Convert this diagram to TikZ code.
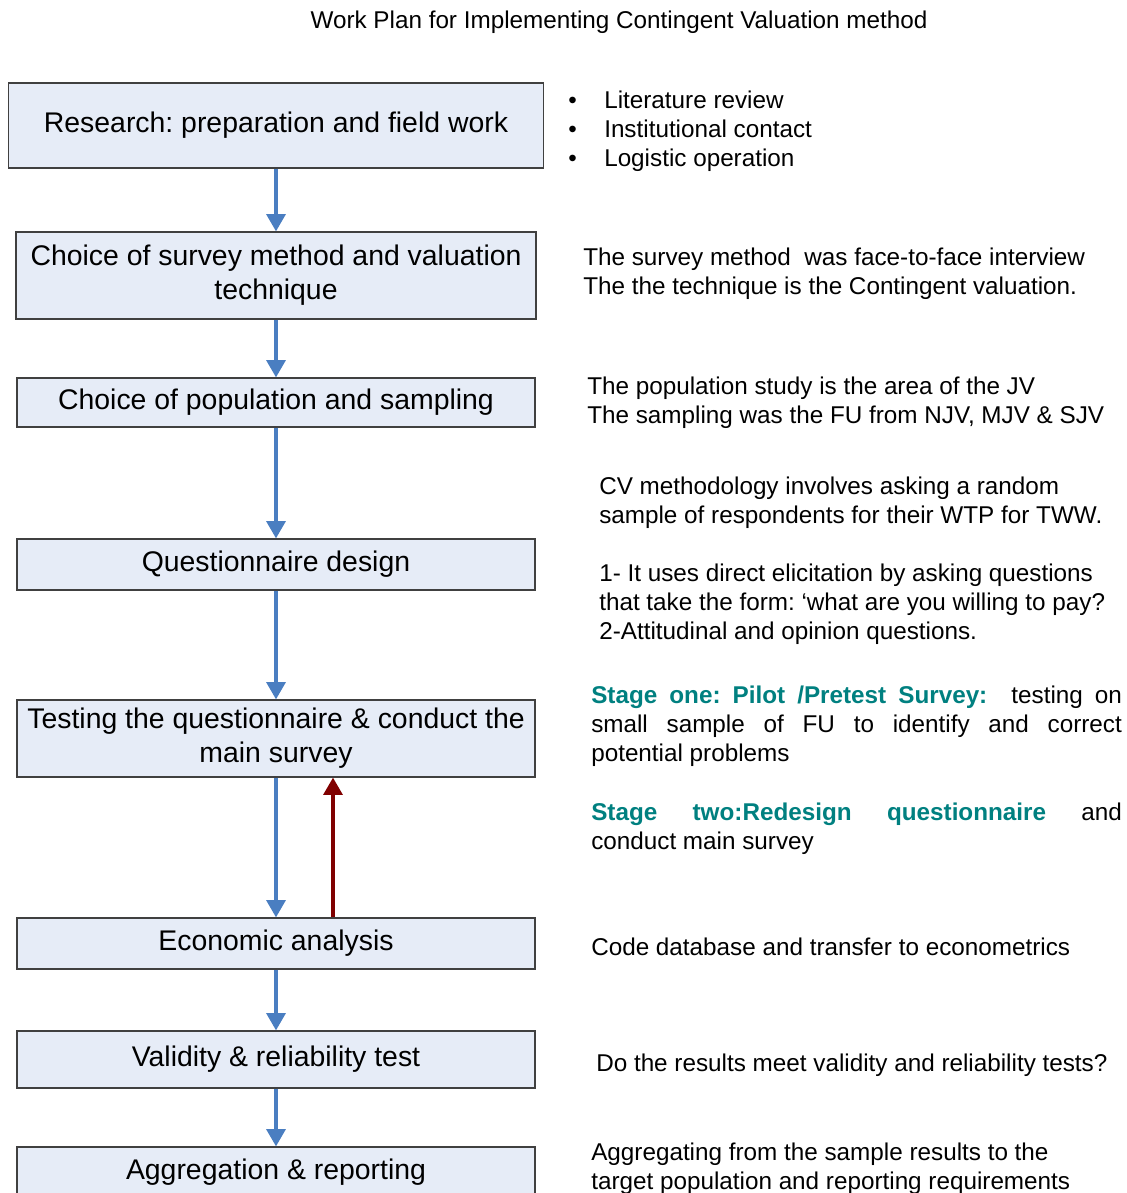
\documentclass[tikz,border=0pt]{standalone}
\usepackage{fontspec}
\setmainfont{Liberation Sans}
\frenchspacing
\usetikzlibrary{arrows.meta,calc}

\definecolor{boxfill}{RGB}{230,236,247}
\definecolor{flowblue}{RGB}{74,126,193}
\definecolor{backred}{RGB}{128,0,0}
\definecolor{stageteal}{RGB}{0,128,128}

% one justified line of the stage notes
\newcommand{\jline}[1]{\makebox[398pt][s]{#1}}
\newcommand{\stagetxt}[1]{\textcolor{stageteal}{\textbf{#1}}}

\begin{document}
\begin{tikzpicture}[x=0.75pt,y=-0.75pt,
    stepbox/.style={draw=black!75, fill=boxfill, line width=0.8pt, minimum width=388.5pt,
      align=center, inner sep=0pt, font=\fontsize{21.3}{25.5}\selectfont},
    note/.style={anchor=north west, inner sep=0pt, align=left,
      font=\fontsize{18.2}{21.75}\selectfont},
    flow/.style={-{Triangle[width=14pt,length=13pt]}, flowblue, line width=3pt},
    back/.style={-{Triangle[width=14pt,length=13pt]}, backred, line width=3pt}]
  \useasboundingbox (0,0) rectangle (1127,1193);

  \node[anchor=base, font=\fontsize{18.2}{21.75}\selectfont] (title) at (619,28)
    {Work Plan for Implementing Contingent Valuation method};

  % steps of the plan
  \node[stepbox, minimum width=401pt, minimum height=63.75pt] (research) at (276,125.5)
    {Research: preparation and field work};
  \node[stepbox, minimum width=390pt, minimum height=65.25pt] (method) at (276,275.5)
    {Choice of survey method and valuation\\technique};
  \node[stepbox, minimum height=36.75pt] (sampling) at (276,402.5)
    {Choice of population and sampling};
  \node[stepbox, minimum height=38.25pt] (design) at (276,564.5)
    {Questionnaire design};
  \node[stepbox, minimum height=57.75pt] (testing) at (276,738.5)
    {Testing the questionnaire \& conduct the\\main survey};
  \node[stepbox, minimum height=38.25pt] (econ) at (276,943.5)
    {Economic analysis};
  \node[stepbox, minimum height=42.75pt] (validity) at (276,1059.5)
    {Validity \& reliability test};
  \node[stepbox, minimum height=38.25pt] (report) at (276,1172.5)
    {Aggregation \& reporting};

  % flow down
  \draw[flow] (research) -- (method);
  \draw[flow] (method) -- (sampling);
  \draw[flow] (sampling) -- (design);
  \draw[flow] (design) -- (testing);
  \draw[flow] (testing) -- (econ);
  \draw[flow] (econ) -- (validity);
  \draw[flow] (validity) -- (report);
  % feedback to the survey
  \coordinate (fb) at ($(econ.north)+(57,0)$);
  \draw[back] (fb) -- (fb |- testing.south);

  % notes on the right
  \node[note] (tasks) at (568,91)
    {\makebox[27pt][l]{•}Literature review\\
     \makebox[27pt][l]{•}Institutional contact\\
     \makebox[27pt][l]{•}Logistic operation};
  \node[note] (methodnote) at (583,248)
    {The survey method\ \ was face-to-face interview\\
     The the technique is the Contingent valuation.};
  \node[note] (samplenote) at (587,377)
    {The population study is the area of the JV\\
     The sampling was the FU from NJV, MJV \& SJV};
  \node[note] (cvnote) at (599,477)
    {CV methodology involves asking a random\\
     sample of respondents for their WTP for TWW.};
  \node[note] (designnote) at (599,564)
    {1- It uses direct elicitation by asking questions\\
     that take the form: ‘what are you willing to pay?\\
     2-Attitudinal and opinion questions.};
  \node[note] (stageone) at (591,686)
    {\jline{\stagetxt{Stage one: Pilot /Pretest Survey:}\ \ testing on}\\
     \jline{small sample of FU to identify and correct}\\
     potential problems};
  \node[note] (stagetwo) at (591,803)
    {\jline{\stagetxt{Stage two:Redesign questionnaire} and}\\
     conduct main survey};
  \node[note] (econnote) at (591,938)
    {Code database and transfer to econometrics};
  \node[note] (validnote) at (596,1054)
    {Do the results meet validity and reliability tests?};
  \node[note] (reportnote) at (591,1143)
    {Aggregating from the sample results to the\\
     target population and reporting requirements};
\end{tikzpicture}
\end{document}
